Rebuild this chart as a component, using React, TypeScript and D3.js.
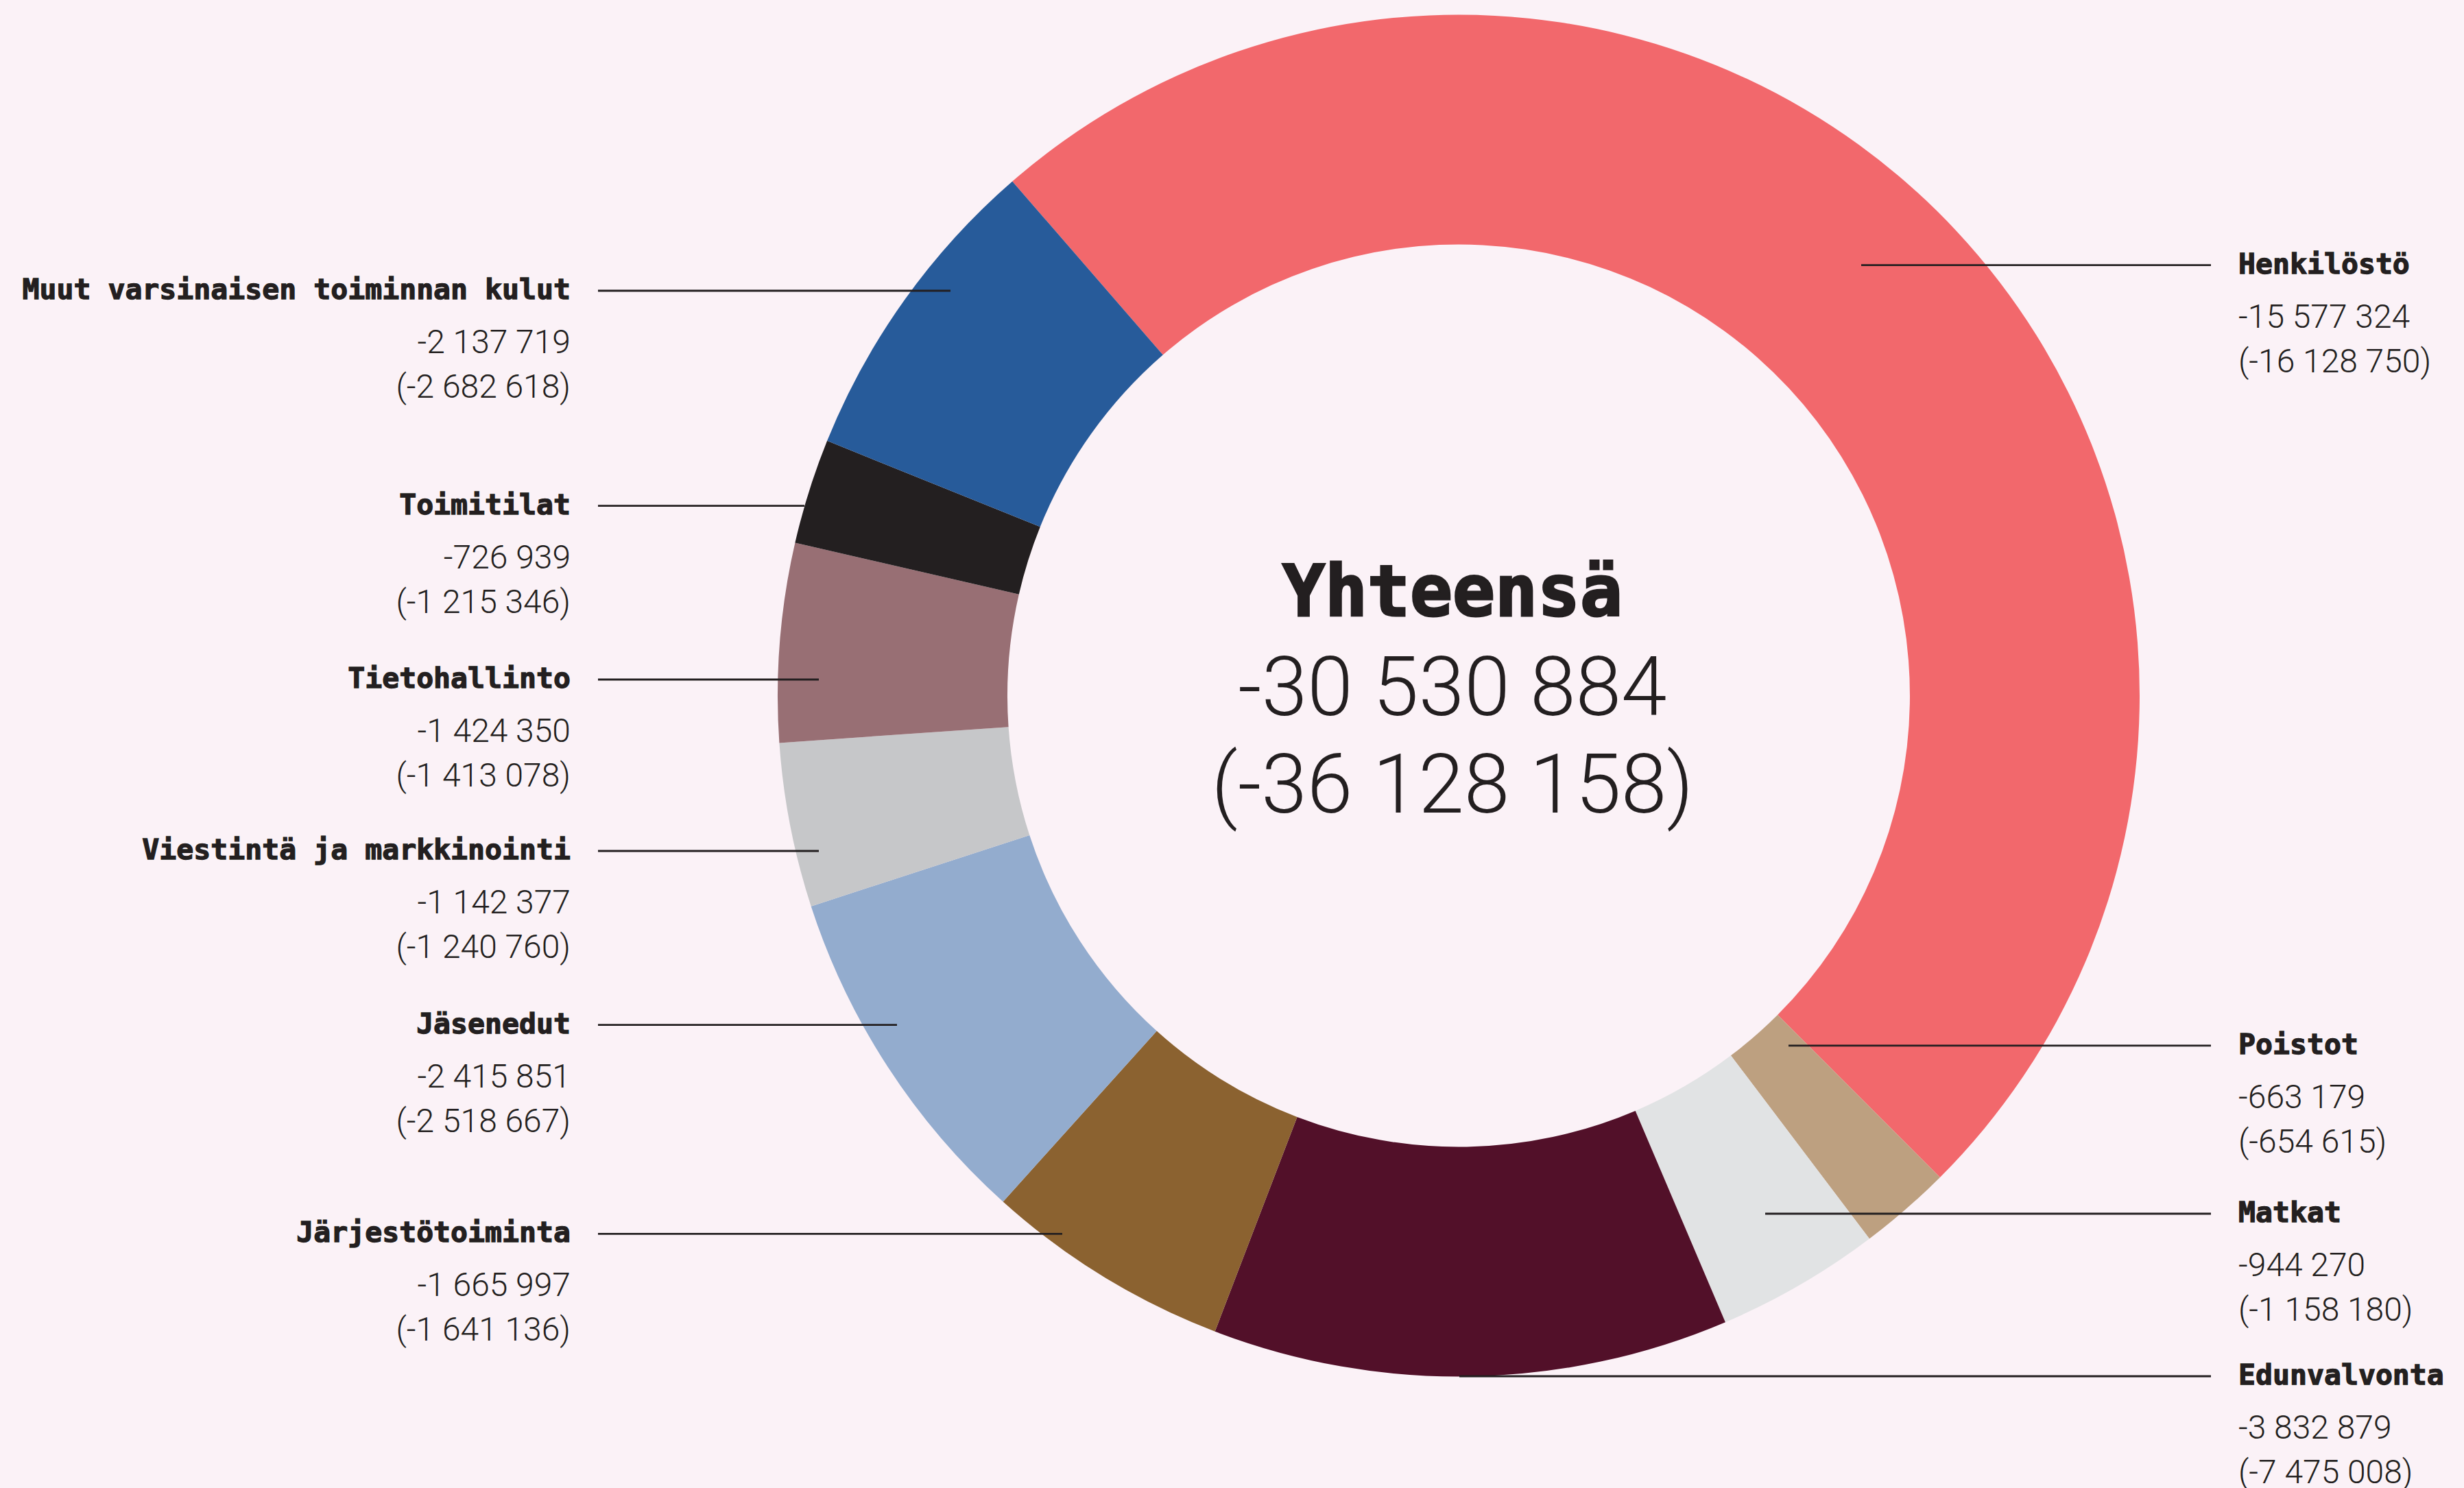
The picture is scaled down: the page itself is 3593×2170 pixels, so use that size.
import React, { useEffect } from "react";
import * as d3 from "d3";

// ---------- data ----------
const categories = [
  "Henkilöstö",
  "Poistot",
  "Matkat",
  "Edunvalvonta",
  "Järjestötoiminta",
  "Jäsenedut",
  "Viestintä ja markkinointi",
  "Tietohallinto",
  "Toimitilat",
  "Muut varsinaisen toiminnan kulut",
];
// current year (label, first row)
const valuesCurrent = [
  -15577324, -663179, -944270, -3832879, -1665997, -2415851, -1142377, -1424350, -726939, -2137719,
];
// previous year (label, second row in parentheses)
const valuesPrevious = [
  -16128750, -654615, -1158180, -7475008, -1641136, -2518667, -1240760, -1413078, -1215346, -2682618,
];
// share of the ring (%) as drawn in the picture
const drawnShare = [48.88, 2.19, 3.9, 12.23, 5.84, 8.33, 3.9, 4.71, 2.5, 7.52];
const totalLabel = "Yhteensä";
const totalCurrent = -30530884;
const totalPrevious = -36128158;

// ---------- styles ----------
const palette = [
  "#F2686C",
  "#BDA080",
  "#E1E3E4",
  "#521029",
  "#8B6230",
  "#93ACCE",
  "#C6C7C9",
  "#986F74",
  "#231F20",
  "#275B9A",
];
const BG = "#FBF2F7";
const INK = "#231F20";

// ---------- layout ----------
const W = 3593;
const H = 2170;
const CX = 2127;
const CY = 1014.5;
const R_OUT = 993;
const R_IN = 658;
const START_DEG = -40.95;
const LEFT_TEXT_X = 832;
const RIGHT_TEXT_X = 3264;
const LINE_GAP = 40;
// leader line y and the x where it ends inside the ring, per category
const labelLayout = [
  { side: "right", lineY: 386.7, anchorX: 2714 },
  { side: "right", lineY: 1524.8, anchorX: 2608 },
  { side: "right", lineY: 1770, anchorX: 2574 },
  { side: "right", lineY: 2007, anchorX: 2128 },
  { side: "left", lineY: 1799.3, anchorX: 1549 },
  { side: "left", lineY: 1494.7, anchorX: 1308 },
  { side: "left", lineY: 1241, anchorX: 1194 },
  { side: "left", lineY: 991, anchorX: 1194 },
  { side: "left", lineY: 737.7, anchorX: 1173 },
  { side: "left", lineY: 424, anchorX: 1386 },
];

const fmt = d3
  .formatLocale({ decimal: ",", thousands: " ", grouping: [3], currency: ["", ""], minus: "-" })
  .format(",d");

const TITLE_FONT = "'DejaVu Sans Mono', monospace";
const NUM_FONT = "Roboto, 'Open Sans', sans-serif";

export default function App() {
  useEffect(() => {
    document.body.style.margin = "0";
    document.body.style.background = BG;
  }, []);

  const start = (START_DEG * Math.PI) / 180;
  const pie = d3
    .pie<number>()
    .sort(null)
    .value((d) => d)
    .startAngle(start)
    .endAngle(start + 2 * Math.PI);
  const arcs = pie(drawnShare);
  const arcGen = d3.arc<d3.PieArcDatum<number>>().innerRadius(R_IN).outerRadius(R_OUT);

  return (
    <svg
      width={W}
      height={H}
      viewBox={`0 0 ${W} ${H}`}
      style={{ position: "absolute", left: 0, top: 0, display: "block" }}
    >
      <rect x={0} y={0} width={W} height={H} fill={BG} />
      <g transform={`translate(${CX},${CY})`}>
        {arcs.map((a, i) => (
          <path key={categories[i]} d={arcGen(a) || ""} fill={palette[i]} />
        ))}
      </g>

      {categories.map((c, i) => {
        const L = labelLayout[i];
        const left = L.side === "left";
        const tx = left ? LEFT_TEXT_X : RIGHT_TEXT_X;
        const anchor = left ? "end" : "start";
        const x1 = left ? LEFT_TEXT_X + LINE_GAP : RIGHT_TEXT_X - LINE_GAP;
        return (
          <g key={c}>
            <line x1={x1} x2={L.anchorX} y1={L.lineY} y2={L.lineY} stroke={INK} strokeWidth={2.8} />
            <text
              x={tx}
              y={L.lineY + 12}
              textAnchor={anchor}
              fontFamily={TITLE_FONT}
              fontWeight={700}
              fontSize={41.5}
              fill={INK}
              stroke={INK}
              strokeWidth={1.3}
            >
              {c}
            </text>
            <text
              x={tx}
              y={L.lineY + 91}
              textAnchor={anchor}
              fontFamily={NUM_FONT}
              fontWeight={300}
              fontSize={48}
              fill={INK}
            >
              {fmt(valuesCurrent[i])}
            </text>
            <text
              x={tx}
              y={L.lineY + 156}
              textAnchor={anchor}
              fontFamily={NUM_FONT}
              fontWeight={300}
              fontSize={48}
              fill={INK}
            >
              {`(${fmt(valuesPrevious[i])})`}
            </text>
          </g>
        );
      })}

      <text
        x={2118}
        y={898}
        textAnchor="middle"
        fontFamily={TITLE_FONT}
        fontWeight={700}
        fontSize={103}
        fill={INK}
        stroke={INK}
        strokeWidth={3}
      >
        {totalLabel}
      </text>
      <text
        x={2118}
        y={1043}
        textAnchor="middle"
        fontFamily={NUM_FONT}
        fontWeight={300}
        fontSize={120}
        fill={INK}
      >
        {fmt(totalCurrent)}
      </text>
      <text
        x={2118}
        y={1185}
        textAnchor="middle"
        fontFamily={NUM_FONT}
        fontWeight={300}
        fontSize={120}
        fill={INK}
      >
        {`(${fmt(totalPrevious)})`}
      </text>
    </svg>
  );
}
